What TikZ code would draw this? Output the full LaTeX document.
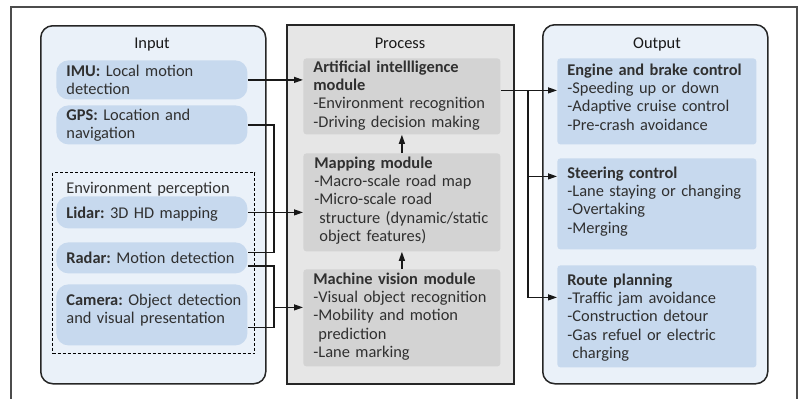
\documentclass[tikz,border=0pt]{standalone}
\usepackage{fontspec}
\setmainfont{Carlito}
\usepackage{tikz}
\usetikzlibrary{arrows.meta}
\usetikzlibrary{positioning}
\frenchspacing

\definecolor{paleblue}{HTML}{EAF1F9}
\definecolor{itemblue}{HTML}{C7D9EE}
\definecolor{palegray}{HTML}{E6E6E6}
\definecolor{modgray}{HTML}{D3D3D3}
\definecolor{ink}{HTML}{303030}

\begin{document}
\begin{tikzpicture}[x=0.5pt,y=-0.5pt,font=\fontsize{8.2}{9.2}\selectfont,
  every node/.style={inner sep=0pt,text=ink},
  group/.style={draw=black!85,line width=0.75pt,anchor=north west},
  initem/.style={fill=itemblue,rounded corners=6pt,anchor=north west,minimum width=95.5pt},
  outitem/.style={fill=itemblue,rounded corners=1.5pt,anchor=north west,minimum width=99.5pt},
  module/.style={fill=modgray,rounded corners=1.5pt,anchor=north west,minimum width=98.5pt},
  txt/.style={anchor=base west,align=left,text width=110pt},
  head/.style={anchor=base,text=black!90},
  link/.style={line width=0.6pt,black!90},
  arrow/.style={link,-{Triangle[length=4.5pt,width=3pt]}}]
  \useasboundingbox (0,0) rectangle (800,398);
  \draw[black!70,line width=0.6pt] (11,420) |- (797,7) -- (797,420);

  % input side
  \node[group,fill=paleblue,rounded corners=6pt,minimum width=112.5pt,minimum height=179pt] (input) at (40,25) {};
  \node[head] (input-head) at (152,48) {Input};
  \node[initem,minimum height=19.5pt] (imu) at (56,60) {};
  \node[initem,minimum height=19.5pt] (gps) at (56,105) {};
  \node[draw=black,line width=0.6pt,dash pattern=on 1.5pt off 1pt,anchor=north west,
    minimum width=101pt,minimum height=90.5pt] (env) at (52,172) {};
  \node[txt] (env-t) at (66,193) {Environment perception};
  \node[initem,minimum height=16pt] (lidar) at (56,196) {};
  \node[initem,minimum height=15.5pt] (radar) at (56,242) {};
  \node[initem,minimum height=30.5pt] (camera) at (56,284) {};
  \node[txt] (imu-t) at (66,76) {\textbf{IMU:} Local motion\\detection};
  \node[txt] (gps-t) at (66,120) {\textbf{GPS:} Location and\\navigation};
  \node[txt] (lidar-t) at (66,218) {\textbf{Lidar:} 3D HD mapping};
  \node[txt] (radar-t) at (66,263) {\textbf{Radar:} Motion detection};
  \node[txt] (camera-t) at (66,305) {\textbf{Camera:} Object detection\\and visual presentation};

  % process column
  \node[group,fill=palegray,minimum width=113.5pt,minimum height=179.5pt] (process) at (286,24) {};
  \node[head] (process-head) at (400,48) {Process};
  \node[module,minimum height=38pt] (ai) at (303,58) {};
  \node[module,minimum height=49pt] (mapping) at (303,153) {};
  \node[module,minimum height=48.5pt] (vision) at (303,269) {};
  \node[txt] (ai-t) at (313,72) {\textbf{Artificial intellligence}\\\textbf{module}\\-Environment recognition\\-Driving decision making};
  \node[txt] (mapping-t) at (314,168) {\textbf{Mapping module}\\-Macro-scale road map\\-Micro-scale road\\\phantom{-}structure (dynamic/static\\\phantom{-}object features)};
  \node[txt] (vision-t) at (313,284) {\textbf{Machine vision module}\\-Visual object recognition\\-Mobility and motion\\\phantom{-}prediction\\-Lane marking};

  % output side
  \node[group,fill=paleblue,rounded corners=6pt,minimum width=112.5pt,minimum height=179.5pt] (output) at (542,24) {};
  \node[head] (output-head) at (657,48) {Output};
  \node[outitem,minimum height=43pt] (engine) at (557,58) {};
  \node[outitem,minimum height=45.5pt] (steering) at (557,158) {};
  \node[outitem,minimum height=51pt] (route) at (557,265) {};
  \node[txt] (engine-t) at (567,75) {\textbf{Engine and brake control}\\-Speeding up or down\\-Adaptive cruise control\\-Pre-crash avoidance};
  \node[txt] (steering-t) at (567,178) {\textbf{Steering control}\\-Lane staying or changing\\-Overtaking\\-Merging};
  \node[txt] (route-t) at (567,285) {\textbf{Route planning}\\-Traffic jam avoidance\\-Construction detour\\-Gas refuel or electric\\\phantom{-}charging};

  % connection points
  \coordinate (lbus) at (274,0);
  \coordinate (rbus) at (528,0);
  \coordinate (radar-a) at ([yshift=2.75pt]radar.east);
  \coordinate (radar-b) at ([yshift=-4pt]radar.east);
  \coordinate (camera-a) at ([yshift=-6.25pt]camera.east);
  \coordinate (vision-in) at ([yshift=5.25pt]vision.west);
  \coordinate (ai-out) at ([yshift=3pt]ai.east);
  \coordinate (steering-in) at ([yshift=13.75pt]steering.west);
  \coordinate (route-in) at ([yshift=9.5pt]route.west);

  \draw[arrow] (imu.east) -- (imu.east -| ai.west);
  \draw[arrow] (lidar.east) -- (lidar.east -| mapping.west);
  \draw[link] (gps.east) -| (lbus |- radar-a) -- (radar-a);
  \draw[link] (radar-b) -| (lbus |- camera-a) -- (camera-a);
  \draw[arrow] (lbus |- vision-in) -- (vision-in);
  \draw[arrow] (mapping.north) -- (ai.south);
  \draw[arrow] (vision.north) -- (mapping.south);
  \draw[arrow] (ai-out) -- (ai-out -| engine.west);
  \draw[arrow] (rbus |- ai-out) |- (route-in);
  \draw[arrow] (rbus |- steering-in) -- (steering-in);
\end{tikzpicture}
\end{document}
